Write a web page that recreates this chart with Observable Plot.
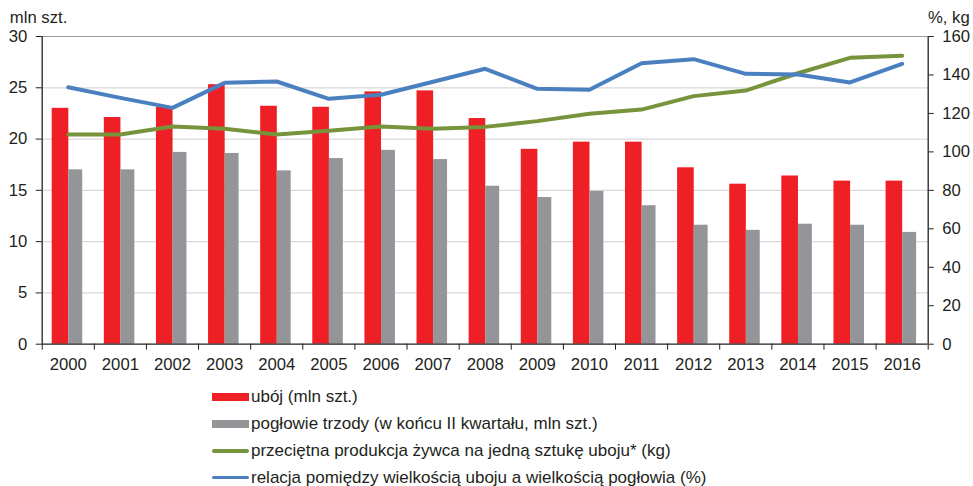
<!DOCTYPE html>
<html>
<head>
<meta charset="utf-8">
<script src="https://cdn.jsdelivr.net/npm/d3@7"></script>
<script src="https://cdn.jsdelivr.net/npm/@observablehq/plot@0.6"></script>
<style>
  body { margin: 0; background: #fff; font-family: "Liberation Sans", Arial, sans-serif; color: #231f20; }
  #chart svg { display: block; }
  #legend { position: relative; margin-top: 3.6px; padding-left: 212px; font-size: 17px; }
  .row { display: flex; align-items: center; height: 26.9px; white-space: nowrap; }
  .sw { width: 37px; margin-right: 2px; flex: none; }
  .bar { height: 8px; }
  .ln { height: 3.5px; border-radius: 2px; }
</style>
</head>
<body>
<div id="chart"></div>
<div id="legend"></div>
<script>
const years = [2000, 2001, 2002, 2003, 2004, 2005, 2006, 2007, 2008, 2009, 2010, 2011, 2012, 2013, 2014, 2015, 2016];
const uboj = [23.0, 22.1, 23.1, 25.3, 23.2, 23.1, 24.6, 24.7, 22.0, 19.0, 19.7, 19.7, 17.2, 15.6, 16.4, 15.9, 15.9];
const poglowie = [17.0, 17.0, 18.7, 18.6, 16.9, 18.1, 18.9, 18.0, 15.4, 14.3, 14.9, 13.5, 11.6, 11.1, 11.7, 11.6, 10.9];
const zywiec = [109.0, 109.0, 113.2, 112.0, 109.0, 111.0, 113.2, 112.0, 113.0, 116.0, 119.8, 122.0, 129.0, 131.9, 140.9, 148.9, 150.0];
const relacja = [133.6, 128.1, 122.9, 135.9, 136.6, 127.6, 129.7, 136.5, 143.2, 132.8, 132.3, 146.1, 148.2, 140.6, 140.2, 136.1, 145.8];
const leftTicks = [0, 5, 10, 15, 20, 25, 30];
const rightTicks = [0, 20, 40, 60, 80, 100, 120, 140, 160];
const leftTitle = "mln szt.";
const rightTitle = "%, kg";
const seriesNames = [
  "ubój (mln szt.)",
  "pogłowie trzody (w końcu II kwartału, mln szt.)",
  "przeciętna produkcja żywca na jedną sztukę uboju* (kg)",
  "relacja pomiędzy wielkością uboju a wielkością pogłowia (%)"
];
const colors = ["#ee1f25", "#939598", "#77933c", "#4a80c0"];

const LEFT_MAX = 30, RIGHT_MAX = 160;
const toLeft = v => v * LEFT_MAX / RIGHT_MAX;

const rows = years.map((year, i) => ({year, uboj: uboj[i], poglowie: poglowie[i], zywiec: zywiec[i], relacja: relacja[i]}));
const boundaries = [...years.map(y => y - 0.5), years[years.length - 1] + 0.5];
const x0 = years[0] - 0.5, x1 = years[years.length - 1] + 0.5;

const plot = Plot.plot({
  width: 973,
  height: 380,
  marginLeft: 41.7,
  marginRight: 45.3,
  marginTop: 36,
  marginBottom: 36.3,
  style: {fontFamily: '"Liberation Sans", Arial, sans-serif', fontSize: "16.7px", color: "#231f20", background: "#fff"},
  x: {type: "linear", domain: [x0, x1]},
  y: {domain: [0, LEFT_MAX]},
  marks: [
    Plot.gridY(leftTicks.filter(t => t > 0 && t < LEFT_MAX), {stroke: "#d9d9d9", strokeOpacity: 1, strokeWidth: 1.3}),
    Plot.ruleY([LEFT_MAX], {stroke: "#9a9a9a", strokeWidth: 1.2}),
    Plot.rectY(rows, {x1: d => d.year - 0.5, x2: d => d.year + 0.5, y: "uboj", fill: colors[0], insetLeft: 10, insetRight: 25.5}),
    Plot.rectY(rows, {x1: d => d.year - 0.5, x2: d => d.year + 0.5, y: "poglowie", fill: colors[1], insetLeft: 26.6, insetRight: 11.6}),
    Plot.line(rows, {x: "year", y: d => toLeft(d.zywiec), stroke: colors[2], strokeWidth: 4, strokeLinecap: "round", strokeLinejoin: "round"}),
    Plot.line(rows, {x: "year", y: d => toLeft(d.relacja), stroke: colors[3], strokeWidth: 4, strokeLinecap: "round", strokeLinejoin: "round"}),
    Plot.ruleY([0], {stroke: "#231f20", strokeWidth: 1.3}),
    Plot.ruleX([x0, x1], {stroke: "#231f20", strokeWidth: 1.3}),
    Plot.axisY(leftTicks, {anchor: "left", tickSize: 6, tickPadding: 9, label: null, stroke: "#231f20", fill: "#231f20"}),
    Plot.axisY(rightTicks, {anchor: "right", y: toLeft, tickFormat: d => String(d), tickSize: 5, tickPadding: 9, label: null, stroke: "#231f20", fill: "#231f20"}),
    Plot.axisX(boundaries, {anchor: "bottom", tickSize: 6, tickFormat: () => "", label: null, stroke: "#231f20"}),
    Plot.axisX(years, {anchor: "bottom", tickSize: 0, tickPadding: 14, tickFormat: d => String(d), label: null, fill: "#231f20"}),
    Plot.text([leftTitle], {frameAnchor: "top-left", text: d => d, textAnchor: "start", lineAnchor: "bottom", dx: -32.4, dy: -13.5, fill: "#231f20", fontSize: 16.7}),
    Plot.text([rightTitle], {frameAnchor: "top-right", text: d => d, textAnchor: "end", lineAnchor: "bottom", dx: 41.5, dy: -13.5, fill: "#231f20", fontSize: 16.7})
  ]
});
document.getElementById("chart").appendChild(plot);

const legend = document.getElementById("legend");
seriesNames.forEach((name, i) => {
  const row = document.createElement("div");
  row.className = "row";
  const sw = document.createElement("div");
  sw.className = "sw " + (i < 2 ? "bar" : "ln");
  sw.style.background = colors[i];
  const label = document.createElement("span");
  label.textContent = name;
  row.appendChild(sw);
  row.appendChild(label);
  legend.appendChild(row);
});
</script>
</body>
</html>
